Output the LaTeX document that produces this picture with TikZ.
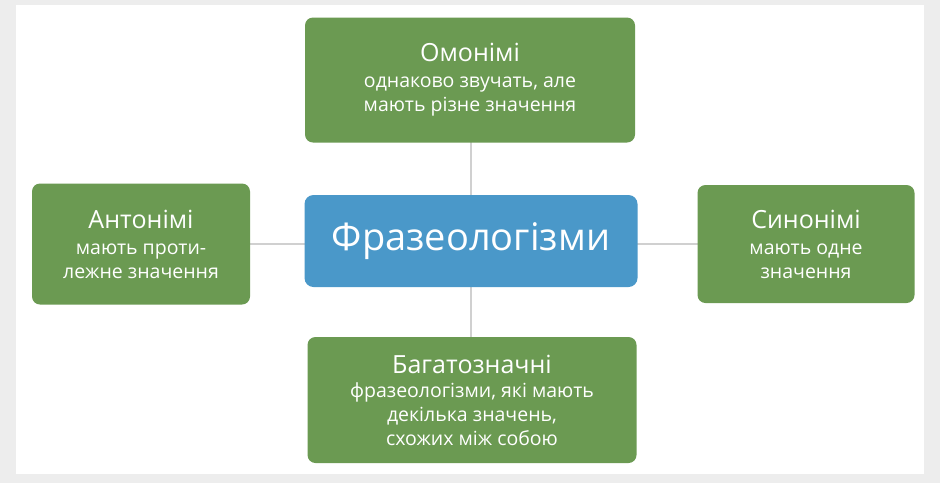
\documentclass[tikz,border=0pt]{standalone}
\usepackage{fontspec}
\setmainfont{Open Sans}
\definecolor{bgo}{HTML}{EDEDED}
\definecolor{gbox}{HTML}{6B9A52}
\definecolor{bbox}{HTML}{4A98C9}
\definecolor{lin}{HTML}{D0D0D0}
\begin{document}
\begin{tikzpicture}[x=1pt,y=-1pt,
  gb/.style={fill=gbox,draw=none,rounded corners=8pt,text=white,align=center,inner sep=2pt,font=\fontsize{19.5}{24}\selectfont},
  cn/.style={draw=lin,line width=1.5pt}]
\fill[bgo] (0,0) rectangle (940,483);
\fill[white] (16,5) rectangle (924,474);
\useasboundingbox (0,0) rectangle (940,483);
\draw[cn] (471,80) -- (471,400);
\draw[cn] (141,244) -- (806,244);
\node[gb,minimum width=330,minimum height=125] (om) at (470,80) {{\fontsize{25}{30}\selectfont Омонімі}\\[2pt]однаково звучать, але\\мають різне значення};
\node[gb,minimum width=218,minimum height=121] (an) at (141,244) {{\fontsize{25}{30}\selectfont Антонімі}\\[2pt]мають проти-\\лежне значення};
\node[gb,minimum width=217,minimum height=118] (sy) at (806,244) {{\fontsize{25}{30}\selectfont Синонімі}\\[2pt]мають одне\\значення};
\node[gb,minimum width=329,minimum height=126] (ba) at (472,400) {{\fontsize{25}{28}\selectfont Багатозначні}\\фразеологізми, які мають\\декілька значень,\\схожих між собою};
\node[fill=bbox,rounded corners=9pt,text=white,minimum width=333,minimum height=92,font=\fontsize{38}{44}\selectfont] (c) at (471,241) {Фразеологізми};
\end{tikzpicture}
\end{document}
